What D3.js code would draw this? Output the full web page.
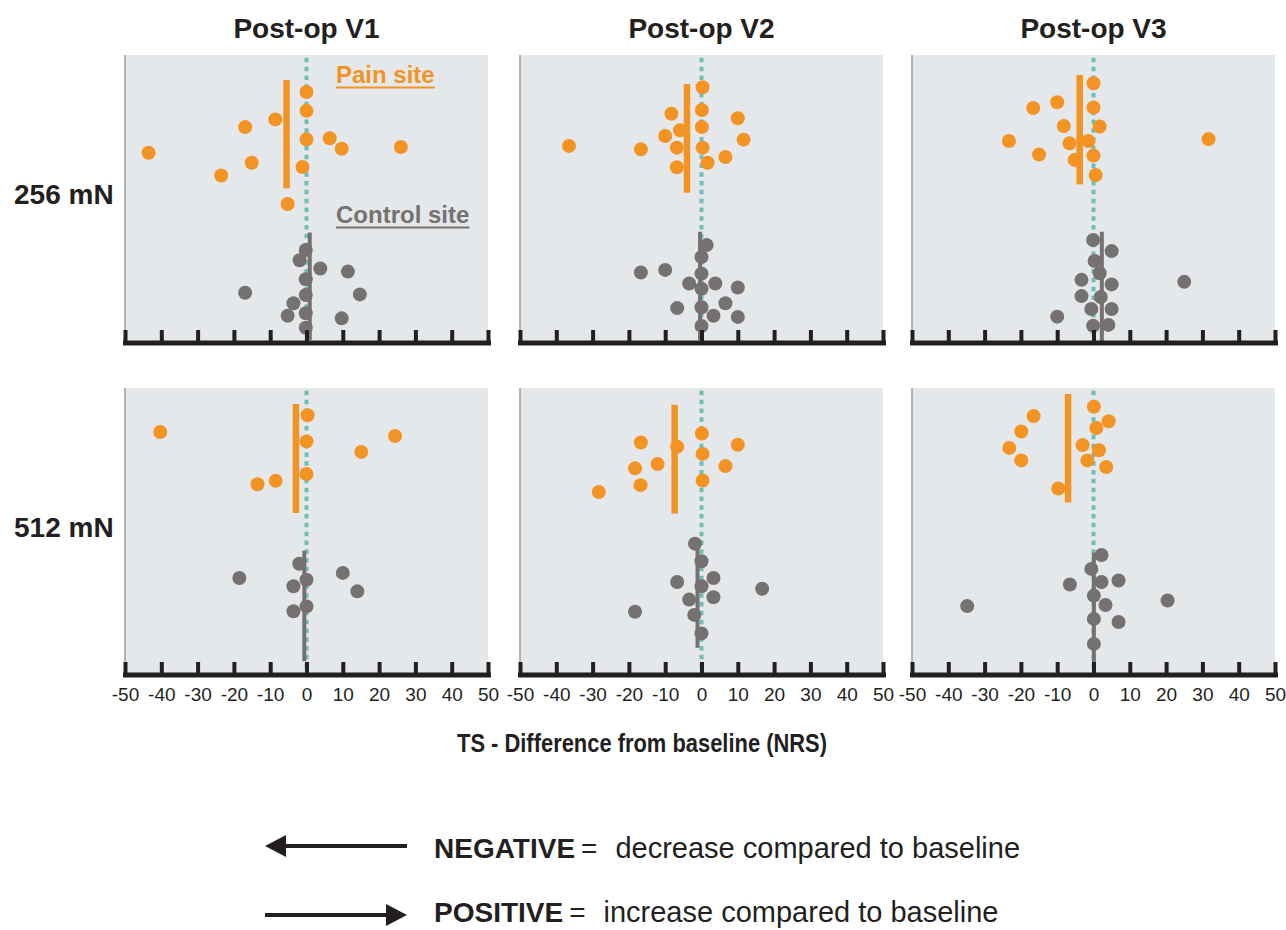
<!DOCTYPE html>
<html lang="en">
<head>
    <meta charset="UTF-8">
    <title>TS - Difference from baseline</title>
    <script src="https://d3js.org/d3.v7.min.js"></script>
    <style>
        body {
            margin: 0;
            background: #fff;
            font-family: "Liberation Sans", Arial, sans-serif;
        }
        .axis .domain {
            stroke: #231f20;
            stroke-width: 5px;
            stroke-linecap: square;
        }
        .axis .tick line {
            stroke: #231f20;
            stroke-width: 4px;
        }
        .axis .tick text {
            font-size: 19px;
            fill: #231f20;
            font-family: "Liberation Sans", Arial, sans-serif;
        }
    </style>
</head>
<body>
    <svg width="1286" height="930"></svg>

    <script>
        // Column / row labels
        const visits = ["Post-op V1", "Post-op V2", "Post-op V3"];
        const forces = ["256 mN", "512 mN"];
        const xTicks = [-50, -40, -30, -20, -10, 0, 10, 20, 30, 40, 50];

        // Each point: [difference from baseline, vertical spread position 0-100]
        const pain256 = [
            [[0,87],[0,80.4],[-8.6,77.4],[-16.9,74.7],[0,70.4],[6.4,70.8],[9.7,67.1],[26,67.7],[-43.5,65.7],[-15.1,62.2],[-1.1,60.7],[-23.5,57.7],[-5.2,47.7]],
            [[0.3,88.7],[0.1,80.7],[-8.3,79.4],[10,77.8],[-5.9,73.6],[0.1,74.7],[-10,71.6],[11.6,70.3],[-36.5,68.1],[-16.7,66.9],[-6.8,67.5],[0.3,67.5],[6.6,64.2],[1.7,62.2],[-6.8,60.6]],
            [[0,90.1],[-10,83.4],[-16.6,81.4],[0,81.6],[-8.2,75.1],[1.7,74.9],[-23.3,69.8],[-6.6,69],[-1.4,69.8],[31.7,70.5],[-15,65.1],[-5.2,63.2],[0,64.7],[0.6,57.9]]
        ];
        const control256 = [
            [[-0.2,31.6],[-1.9,28],[3.8,25.1],[11.4,24],[-0.2,21.3],[-16.9,16.6],[-0.2,15.8],[14.7,16],[-3.6,12.9],[-5.2,8.5],[-0.2,9.4],[9.7,7.6],[-0.2,4.3]],
            [[1.4,33.3],[0,29.1],[-16.7,23.7],[-10,24.6],[0,23.3],[-3.4,19.8],[3.8,19.8],[0,18],[10,18.4],[6.6,12.9],[-6.7,11.2],[0,11.5],[3.3,8.5],[10,8.1],[0,4.9]],
            [[-0.1,35.1],[5,31.2],[0.3,27.7],[1.7,23.4],[-3.3,21.1],[5,19.5],[25,20.4],[-3.3,15.4],[2,15.1],[-0.6,10.9],[5,10.9],[-10,8.2],[-0.1,5],[4.1,5.3]]
        ];
        const pain512 = [
            [[0.3,90.4],[-40.3,84.5],[24.4,83.1],[0,81.2],[15.1,77.5],[0,69.7],[-8.5,67.3],[-13.5,66.1]],
            [[0.1,84],[-16.7,80.8],[-6.7,79.3],[10,80],[0.3,76.8],[-12.1,73.2],[-18.3,71.7],[6.6,72.5],[-16.8,65.8],[0.3,67.4],[-28.3,63.4]],
            [[0.1,93.4],[-16.5,90.1],[4.2,88.3],[-19.9,84.7],[0.8,85.9],[-23.2,78.9],[-3,79.9],[1.5,78.1],[-19.9,74.5],[-1.7,74.5],[3.5,72.2],[-9.7,64.6]]
        ];
        const control512 = [
            [[-2,38.1],[10,34.9],[-18.5,33.1],[0,32.5],[-3.6,30.2],[14,28.4],[0,23.1],[-3.6,21.4]],
            [[-1.8,45.2],[0,39],[3.3,33.1],[-6.7,31.7],[0,30.2],[16.7,29.3],[3.3,26.3],[-3.4,25.5],[-18.3,21.2],[-2,20.1],[0,13.6]],
            [[2.2,41.2],[-0.6,36.3],[2.2,31.7],[6.9,32.2],[-6.5,30.8],[0.1,26.9],[20.4,25.2],[-34.8,23.2],[3.3,23.6],[0.1,18.7],[6.9,17.6],[0.1,9.9]]
        ];

        // Group means: [value, spread from, spread to]
        const painMean256 = [[-5.5, 53.2, 91.2], [-4.0, 51.7, 89.8], [-3.8, 54.6, 93.0]];
        const controlMean256 = [[0.9, 0, 37.7], [-0.4, 0, 38], [2.3, -1, 38]];
        const painMean512 = [[-2.9, 56, 94.4], [-7.4, 55.8, 94.1], [-7.0, 59.7, 97.9]];
        const controlMean512 = [[-0.6, 3.8, 42.7], [-1.1, 8.5, 44.8], [0.1, 3, 42]];

        const rows = [
            { pain: pain256, control: control256, painMean: painMean256, controlMean: controlMean256 },
            { pain: pain512, control: control512, painMean: painMean512, controlMean: controlMean512 }
        ];

        const orange = "#f39323",
              grey = "#767171",
              teal = "#6fbdb6",
              ink = "#231f20";

        const svg = d3.select("svg");

        const panelLeft = [125, 520, 912],
              panelWidth = 363,
              rowTop = [55, 388],
              rowAxis = [340, 672],
              r = 7;

        rows.forEach((row, ri) => {
            const y = d3.scaleLinear().domain([0, 100]).range([rowAxis[ri], rowTop[ri]]);

            visits.forEach((visit, ci) => {
                const x = d3.scaleLinear().domain([-50, 50]).range([panelLeft[ci], panelLeft[ci] + panelWidth]);
                const g = svg.append("g");

                // panel background
                g.append("rect")
                    .attr("x", x(-50))
                    .attr("y", rowTop[ri])
                    .attr("width", x(50) - x(-50))
                    .attr("height", rowAxis[ri] - rowTop[ri] + 1)
                    .attr("fill", "#e5e8ea");

                g.append("line")
                    .attr("x1", x(-50)).attr("x2", x(-50))
                    .attr("y1", rowTop[ri]).attr("y2", rowAxis[ri])
                    .attr("stroke", "#9b9b9b")
                    .attr("stroke-width", 1.5);

                // zero reference
                g.append("line")
                    .attr("x1", x(0)).attr("x2", x(0))
                    .attr("y1", y(99)).attr("y2", y(0))
                    .attr("stroke", teal)
                    .attr("stroke-width", 4)
                    .attr("stroke-dasharray", "4.5,4.3");

                const pm = row.painMean[ci];
                g.append("line")
                    .attr("x1", x(pm[0])).attr("x2", x(pm[0]))
                    .attr("y1", y(pm[2])).attr("y2", y(pm[1]))
                    .attr("stroke", orange)
                    .attr("stroke-width", 6.5);

                g.append("g").selectAll("circle")
                    .data(row.pain[ci])
                    .join("circle")
                    .attr("cx", d => x(d[0]))
                    .attr("cy", d => y(d[1]))
                    .attr("r", r)
                    .attr("fill", orange);

                const cm = row.controlMean[ci];
                g.append("line")
                    .attr("x1", x(cm[0])).attr("x2", x(cm[0]))
                    .attr("y1", y(cm[2])).attr("y2", y(cm[1]))
                    .attr("stroke", grey)
                    .attr("stroke-width", 4);

                g.append("g").selectAll("circle")
                    .data(row.control[ci])
                    .join("circle")
                    .attr("cx", d => x(d[0]))
                    .attr("cy", d => y(d[1]))
                    .attr("r", r)
                    .attr("fill", grey);

                // x axis, ticks pointing up into the panel
                const axis = d3.axisBottom(x)
                    .tickValues(xTicks)
                    .tickSizeInner(-12.5)
                    .tickSizeOuter(0)
                    .tickPadding(13)
                    .tickFormat(ri === 1 ? d => String(d) : () => "");

                g.append("g")
                    .attr("class", "axis")
                    .attr("transform", `translate(0,${rowAxis[ri] + 2.5})`)
                    .call(axis);

                if (ri === 0) {
                    svg.append("text")
                        .attr("x", x(0))
                        .attr("y", 38)
                        .attr("text-anchor", "middle")
                        .attr("font-size", 28)
                        .attr("font-weight", "bold")
                        .attr("fill", ink)
                        .text(visit);
                }
            });

            svg.append("text")
                .attr("x", 14)
                .attr("y", [204, 537][ri])
                .attr("font-size", 28)
                .attr("font-weight", "bold")
                .attr("fill", ink)
                .text(forces[ri]);
        });

        // site labels
        const siteLabels = [
            { text: "Pain site", y: 83, color: orange },
            { text: "Control site", y: 223, color: grey }
        ];
        siteLabels.forEach(s => {
            const t = svg.append("text")
                .attr("x", 336)
                .attr("y", s.y)
                .attr("font-size", 24)
                .attr("font-weight", "bold")
                .attr("fill", s.color)
                .text(s.text);
            const w = t.node().getComputedTextLength();
            svg.append("line")
                .attr("x1", 336).attr("x2", 336 + w)
                .attr("y1", s.y + 4.5).attr("y2", s.y + 4.5)
                .attr("stroke", s.color)
                .attr("stroke-width", 2.2);
        });

        // axis title
        svg.append("text")
            .attr("x", 642)
            .attr("y", 752)
            .attr("text-anchor", "middle")
            .attr("font-size", 25)
            .attr("font-weight", "bold")
            .attr("fill", ink)
            .attr("textLength", 370)
            .attr("lengthAdjust", "spacingAndGlyphs")
            .text("TS - Difference from baseline (NRS)");

        // direction legend
        const legend = [
            { word: "NEGATIVE", rest: "decrease compared to baseline", y: 858, dir: -1 },
            { word: "POSITIVE", rest: "increase compared to baseline", y: 922, dir: 1 }
        ];
        legend.forEach(l => {
            const ay = l.y - (l.dir < 0 ? 12 : 7);
            const tip = l.dir < 0 ? 265 : 407;
            const back = l.dir < 0 ? 286 : 386;
            svg.append("line")
                .attr("x1", l.dir < 0 ? back : 265)
                .attr("x2", l.dir < 0 ? 407 : back)
                .attr("y1", ay).attr("y2", ay)
                .attr("stroke", ink)
                .attr("stroke-width", 4);
            svg.append("path")
                .attr("d", `M${tip},${ay} L${back},${ay - 11} L${back},${ay + 11} Z`)
                .attr("fill", ink);

            const t = svg.append("text")
                .attr("x", 434)
                .attr("y", l.y)
                .attr("font-size", 28)
                .attr("fill", ink);
            t.append("tspan").attr("font-weight", "bold").text(l.word);
            t.append("tspan").attr("dx", 6).text("=");
            t.append("tspan").attr("dx", 18).attr("font-size", 29).text(l.rest);
        });
    </script>
</body>
</html>
